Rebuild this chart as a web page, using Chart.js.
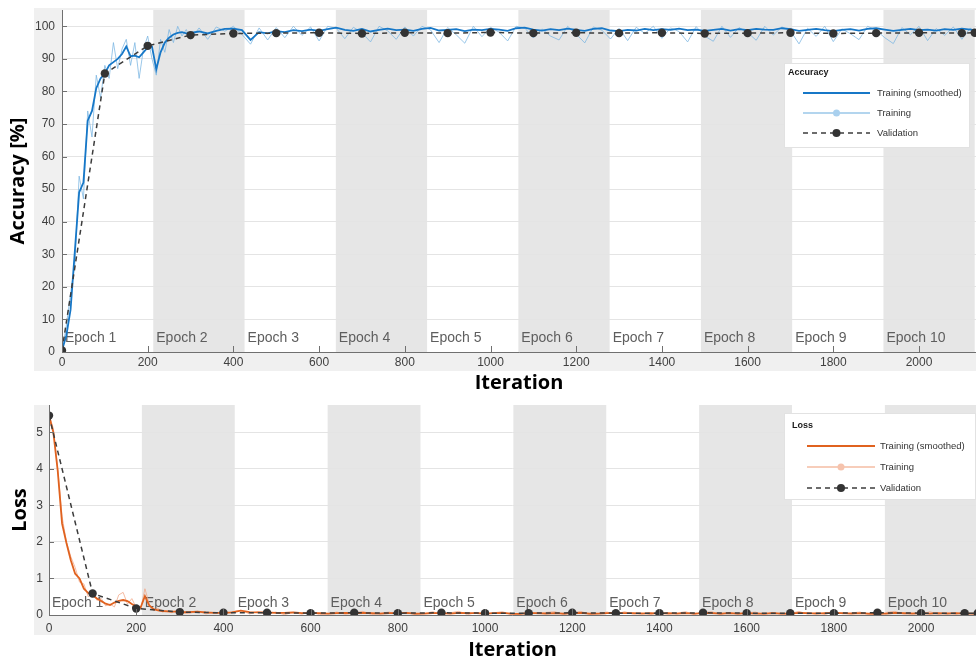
<!DOCTYPE html>
<html>
<head>
<meta charset="utf-8">
<script src="https://cdn.jsdelivr.net/npm/chart.js@4.4.0/dist/chart.umd.min.js"></script>
<style>
html,body{margin:0;padding:0;background:#fff;}
#wrap{position:relative;width:976px;height:662px;overflow:hidden;background:#fff;}
.box{position:absolute;left:0;width:976px;}
canvas{display:block;}
</style>
</head>
<body>
<div id="wrap">
  <div class="box" style="top:0;height:395px"><canvas id="acc" width="976" height="395"></canvas></div>
  <div class="box" style="top:395px;height:267px"><canvas id="loss" width="976" height="267"></canvas></div>
</div>
<script>
// ---------------- DATA ----------------
const xTicks = [0,200,400,600,800,1000,1200,1400,1600,1800,2000];
const accYTicks = [0,10,20,30,40,50,60,70,80,90,100];
const lossYTicks = [0,1,2,3,4,5];

const epochLabels = ['Epoch 1','Epoch 2','Epoch 3','Epoch 4','Epoch 5','Epoch 6','Epoch 7','Epoch 8','Epoch 9','Epoch 10'];
const epochStarts = [0,213,426,639,852,1065,1278,1491,1704,1917];
const epochEnds   = [213,426,639,852,1065,1278,1491,1704,1917,2130];

const trainIter = [0,10,20,30,40,50,60,70,80,90,100,110,120,130,140,150,160,170,180,190,200,210,220,230,240,250,260,270,280,290,300,
  320,340,360,380,400,420,440,460,480,500,
  520,540,560,580,600,620,640,660,680,700,
  720,740,760,780,800,820,840,860,880,900,
  920,940,960,980,1000,1020,1040,1060,1080,1100,
  1120,1140,1160,1180,1200,1220,1240,1260,1280,1300,
  1320,1340,1360,1380,1400,1420,1440,1460,1480,1500,
  1520,1540,1560,1580,1600,1620,1640,1660,1680,1700,
  1720,1740,1760,1780,1800,1820,1840,1860,1880,1900,
  1920,1940,1960,1980,2000,2020,2040,2060,2080,2100,
  2120,2130];

const accSmoothed = [0.5,5,13,31,49,52,71,74,81,84,85.5,88,89,90,91.5,93.8,90.8,91,90.5,92,93.5,93.8,86.8,92,95,96.5,97.5,98,98.2,97.8,98,
  98.4,97.8,98.6,99.2,99.3,98.8,95.8,98.2,97.8,98.5,
  98.2,98.8,98.5,99.0,98.6,99.1,99.6,98.9,98.6,99.2,
  98.4,98.9,99.3,98.8,99.0,98.6,99.2,99.5,98.7,98.9,
  99.1,98.5,99.0,98.8,99.2,99.0,98.6,99.4,99.6,99.0,
  98.7,99.1,98.8,99.3,98.9,98.6,99.2,99.4,98.7,98.5,
  98.9,98.7,99.2,98.8,99.1,98.9,99.3,98.8,99.0,98.6,
  98.9,99.2,98.7,99.1,98.8,99.2,99.0,98.9,99.4,99.1,
  98.6,98.9,99.2,98.8,98.5,98.9,99.1,98.7,99.2,99.4,
  99.0,98.6,98.9,99.2,98.8,99.0,98.7,99.1,98.9,99.3,
  99.0,98.8];

const accTraining = [0,8,18,27,54,47,74,66,85,78,88,84,95,87,93,96,88,95,84,93,97,90,85,96,92,99,95,100,97,99,96,
  99.5,96.0,99.8,98.5,100,97.5,94.5,99.5,95.8,99.6,
  96.5,100,97.2,99.8,95.5,100,99.4,96.2,99.7,98.0,
  95.2,100,98.6,96.0,99.8,97.0,100,98.9,95.0,99.6,
  97.4,94.8,100,96.8,99.7,98.2,95.5,100,99.5,96.4,
  99.2,97.0,95.8,100,97.6,94.9,99.8,98.8,96.1,99.4,
  95.6,99.7,97.8,100,96.3,99.5,98.4,95.2,99.9,97.0,
  95.4,100,96.6,99.6,98.1,95.7,100,97.3,99.8,98.6,
  94.6,99.4,96.9,100,95.3,99.2,97.7,95.9,100,98.8,
  96.5,94.7,99.6,97.4,100,95.6,99.3,97.2,99.8,96.0,
  99.5,97.8];

const valIter = [0,100,200,300,400,500,600,700,800,900,1000,1100,1200,1300,1400,1500,1600,1700,1800,1900,2000,2100,2130];
const accValidation = [0.5,85.5,94,97.3,97.8,97.9,98.0,97.8,98.0,97.9,98.1,97.9,98.0,97.9,98.0,97.8,97.9,98.0,97.8,97.9,98.0,97.9,98.0];

const lossSmoothed = [5.46,5.0,3.95,2.5,1.97,1.5,1.13,1.0,0.72,0.6,0.54,0.45,0.38,0.31,0.27,0.34,0.39,0.41,0.38,0.3,0.23,0.2,0.52,0.26,0.16,0.13,0.11,0.1,0.09,0.09,0.08,
  0.08,0.09,0.07,0.06,0.06,0.07,0.12,0.08,0.07,0.07,
  0.06,0.06,0.07,0.05,0.06,0.05,0.04,0.05,0.06,0.05,
  0.06,0.05,0.04,0.05,0.05,0.06,0.04,0.04,0.05,0.05,
  0.04,0.06,0.05,0.05,0.04,0.05,0.06,0.04,0.03,0.05,
  0.05,0.04,0.05,0.04,0.05,0.06,0.04,0.04,0.05,0.06,
  0.05,0.05,0.04,0.05,0.04,0.05,0.04,0.05,0.04,0.05,
  0.05,0.04,0.05,0.04,0.05,0.04,0.04,0.05,0.04,0.04,
  0.06,0.05,0.04,0.05,0.06,0.05,0.04,0.05,0.04,0.03,
  0.04,0.06,0.05,0.04,0.05,0.04,0.05,0.04,0.05,0.04,
  0.04,0.05];

const lossTraining = [5.5,5.1,4.0,2.7,2.0,1.6,1.3,0.9,0.85,0.5,0.62,0.4,0.45,0.25,0.3,0.22,0.55,0.62,0.3,0.45,0.2,0.15,0.72,0.3,0.12,0.18,0.08,0.12,0.06,0.11,0.05,
  0.04,0.10,0.03,0.08,0.02,0.09,0.13,0.03,0.09,0.02,
  0.08,0.01,0.07,0.02,0.09,0.01,0.03,0.08,0.02,0.06,
  0.10,0.01,0.05,0.08,0.01,0.07,0.01,0.04,0.09,0.02,
  0.06,0.10,0.01,0.07,0.02,0.06,0.09,0.01,0.02,0.08,
  0.03,0.07,0.09,0.01,0.06,0.10,0.01,0.04,0.08,0.02,
  0.09,0.02,0.06,0.01,0.08,0.02,0.05,0.09,0.01,0.07,
  0.09,0.01,0.07,0.02,0.06,0.08,0.01,0.07,0.02,0.04,
  0.10,0.02,0.07,0.01,0.09,0.03,0.06,0.08,0.01,0.03,
  0.07,0.10,0.02,0.06,0.01,0.09,0.02,0.07,0.02,0.08,
  0.02,0.06];

const lossValidation = [5.46,0.59,0.18,0.08,0.06,0.06,0.05,0.06,0.05,0.06,0.05,0.05,0.06,0.05,0.05,0.06,0.05,0.05,0.05,0.06,0.05,0.05,0.05];

// ---------------- RENDERING ----------------
const zip = (xs, ys) => xs.map((x, i) => ({x: x, y: ys[i]}));
const TICK_FONT = {family: '"Liberation Sans", Arial, Helvetica, sans-serif', size: 12};
const TITLE_FONT = {family: '"Open Sans", "DejaVu Sans", sans-serif', size: 20, weight: 'bold'};
const AXIS_COLOR = '#707070';

function decorPlugin(o) {
  return {
    id: 'matlabDecor',
    beforeDraw(chart) {
      const ctx = chart.ctx, a = chart.chartArea, x = chart.scales.x;
      ctx.save();
      ctx.fillStyle = '#f0f0f0';
      ctx.fillRect(o.bg[0], o.bg[1], o.bg[2], o.bg[3]);
      ctx.fillStyle = '#ffffff';
      ctx.fillRect(a.left, a.top, a.right - a.left, a.bottom - a.top);
      ctx.fillStyle = '#e6e6e6';
      for (let i = 0; i < epochStarts.length; i++) {
        if (i % 2 === 1) {
          const x0 = Math.max(x.getPixelForValue(epochStarts[i]), a.left);
          const x1 = Math.min(x.getPixelForValue(epochEnds[i]), a.right);
          if (x1 > x0) ctx.fillRect(x0, a.top, x1 - x0, a.bottom - a.top);
        }
      }
      ctx.restore();
    },
    beforeDatasetsDraw(chart) {
      const ctx = chart.ctx, a = chart.chartArea, x = chart.scales.x;
      ctx.save();
      ctx.beginPath();
      ctx.rect(a.left, a.top, a.right - a.left, a.bottom - a.top);
      ctx.clip();
      ctx.font = '14px "Liberation Sans", Arial, Helvetica, sans-serif';
      ctx.fillStyle = '#5e5e5e';
      ctx.textBaseline = 'middle';
      ctx.textAlign = 'left';
      for (let i = 0; i < epochStarts.length; i++) {
        ctx.fillText(epochLabels[i], x.getPixelForValue(epochStarts[i]) + 3, o.epochY);
      }
      ctx.restore();
    },
    afterDraw(chart) {
      const ctx = chart.ctx, a = chart.chartArea, x = chart.scales.x, y = chart.scales.y;
      ctx.save();
      ctx.strokeStyle = AXIS_COLOR;
      ctx.lineWidth = 1;
      ctx.beginPath();
      ctx.moveTo(a.left + 0.5, a.top);
      ctx.lineTo(a.left + 0.5, a.bottom + 0.5);
      ctx.lineTo(a.right, a.bottom + 0.5);
      ctx.stroke();
      ctx.beginPath();
      x.ticks.forEach(t => {
        const px = Math.round(x.getPixelForValue(t.value)) + 0.5;
        ctx.moveTo(px, a.bottom);
        ctx.lineTo(px, a.bottom - 6);
      });
      y.ticks.forEach(t => {
        const py = Math.round(y.getPixelForValue(t.value)) + 0.5;
        ctx.moveTo(a.left, py);
        ctx.lineTo(a.left + 5, py);
      });
      ctx.stroke();
      const L = o.legend;
      ctx.fillStyle = '#ffffff';
      ctx.fillRect(L.x, L.y, L.w, L.h);
      ctx.strokeStyle = '#e2e2e2';
      ctx.strokeRect(L.x + 0.5, L.y + 0.5, L.w - 1, L.h - 1);
      ctx.fillStyle = '#1a1a1a';
      ctx.textBaseline = 'middle';
      ctx.textAlign = 'left';
      ctx.font = 'bold 9px "Liberation Sans", Arial, sans-serif';
      ctx.fillText(L.title, L.titleX, L.titleY);
      ctx.font = '9.5px "Liberation Sans", Arial, sans-serif';
      const ds = chart.data.datasets;
      ds.forEach((d, i) => {
        const ry = L.rowY[i];
        ctx.save();
        ctx.strokeStyle = d.borderColor;
        ctx.lineWidth = i === 0 ? 2 : 1.5;
        ctx.setLineDash(d.borderDash || []);
        ctx.beginPath();
        ctx.moveTo(L.lx0, ry);
        ctx.lineTo(L.lx1, ry);
        ctx.stroke();
        ctx.setLineDash([]);
        if (i > 0) {
          ctx.fillStyle = i === 1 ? d.legendMarker : '#333333';
          ctx.beginPath();
          ctx.arc((L.lx0 + L.lx1) / 2, ry, i === 1 ? 3.5 : 4, 0, Math.PI * 2);
          ctx.fill();
        }
        ctx.restore();
        ctx.fillStyle = '#333333';
        ctx.fillText(d.label, L.textX, ry);
      });
      ctx.restore();
    }
  };
}

function buildChart(id, o) {
  return new Chart(document.getElementById(id), {
    type: 'line',
    data: {
      datasets: [
        {label: 'Training (smoothed)', data: zip(trainIter, o.smooth), borderColor: o.cSmooth, borderWidth: 1.8, pointRadius: 0, order: 1},
        {label: 'Training', data: zip(trainIter, o.raw), borderColor: o.cRaw, legendMarker: o.cMarker, borderWidth: 1, pointRadius: 0, order: 2},
        {label: 'Validation', data: zip(valIter, o.val), borderColor: '#3c3c3c', borderDash: [5, 4], borderWidth: 1.5,
         pointRadius: 4.2, pointBackgroundColor: '#333333', pointBorderColor: '#333333', pointBorderWidth: 0, order: 0}
      ]
    },
    options: {
      responsive: false,
      animation: false,
      devicePixelRatio: 1,
      layout: {autoPadding: false, padding: {top: o.padTop, right: 0, left: 0, bottom: 0}},
      plugins: {legend: {display: false}, tooltip: {enabled: false}},
      scales: {
        x: {
          type: 'linear', min: 0, max: o.xMax,
          afterBuildTicks: s => { s.ticks = xTicks.map(v => ({value: v})); },
          afterFit: s => { s.height = o.xH; s.paddingLeft = 0; s.paddingRight = 0; },
          grid: {display: false, drawTicks: false},
          border: {display: false},
          ticks: {autoSkip: false, maxRotation: 0, padding: o.xPad, color: '#404040', font: TICK_FONT, callback: v => String(v)},
          title: {display: true, text: 'Iteration', color: '#000', font: TITLE_FONT, padding: 0}
        },
        y: {
          type: 'linear', min: 0, max: o.yMax,
          afterBuildTicks: s => { s.ticks = o.yTicks.map(v => ({value: v})); },
          afterFit: s => { s.width = o.yW; s.paddingTop = 0; s.paddingBottom = 0; },
          grid: {display: true, drawTicks: false, color: '#e4e4e4', lineWidth: 1},
          border: {display: false},
          ticks: {autoSkip: false, padding: o.yPad, color: '#404040', font: TICK_FONT, callback: v => String(v)},
          title: {display: true, text: o.yTitle, color: '#000', font: TITLE_FONT, padding: {top: o.yTitlePad, bottom: 0}}
        }
      }
    },
    plugins: [decorPlugin(o)]
  });
}

buildChart('acc', {
  smooth: accSmoothed, raw: accTraining, val: accValidation,
  cSmooth: '#1677c7', cRaw: 'rgba(120,180,226,0.75)', cMarker: '#a9d0ee',
  xMax: 2133, yMax: 105, yTicks: accYTicks, yTitle: 'Accuracy [%]',
  padTop: 10, xH: 43, yW: 62, xPad: 3, yPad: 7, yTitlePad: 6,
  bg: [34, 8, 942, 363], epochY: 338,
  legend: {x: 784, y: 63, w: 186, h: 85, title: 'Accuracy', titleX: 788, titleY: 73,
           rowY: [93, 113, 133], lx0: 803, lx1: 870, textX: 877}
});

buildChart('loss', {
  smooth: lossSmoothed, raw: lossTraining, val: lossValidation,
  cSmooth: '#e0621f', cRaw: 'rgba(242,165,132,0.75)', cMarker: '#f6c3ad',
  xMax: 2126, yMax: 5.75, yTicks: lossYTicks, yTitle: 'Loss',
  padTop: 10, xH: 47, yW: 49, xPad: 6, yPad: 6, yTitlePad: 8,
  bg: [34, 10, 942, 230], epochY: 208,
  legend: {x: 784, y: 18, w: 192, h: 87, title: 'Loss', titleX: 792, titleY: 31,
           rowY: [51, 72, 93], lx0: 807, lx1: 875, textX: 880}
});
</script>
</body>
</html>
